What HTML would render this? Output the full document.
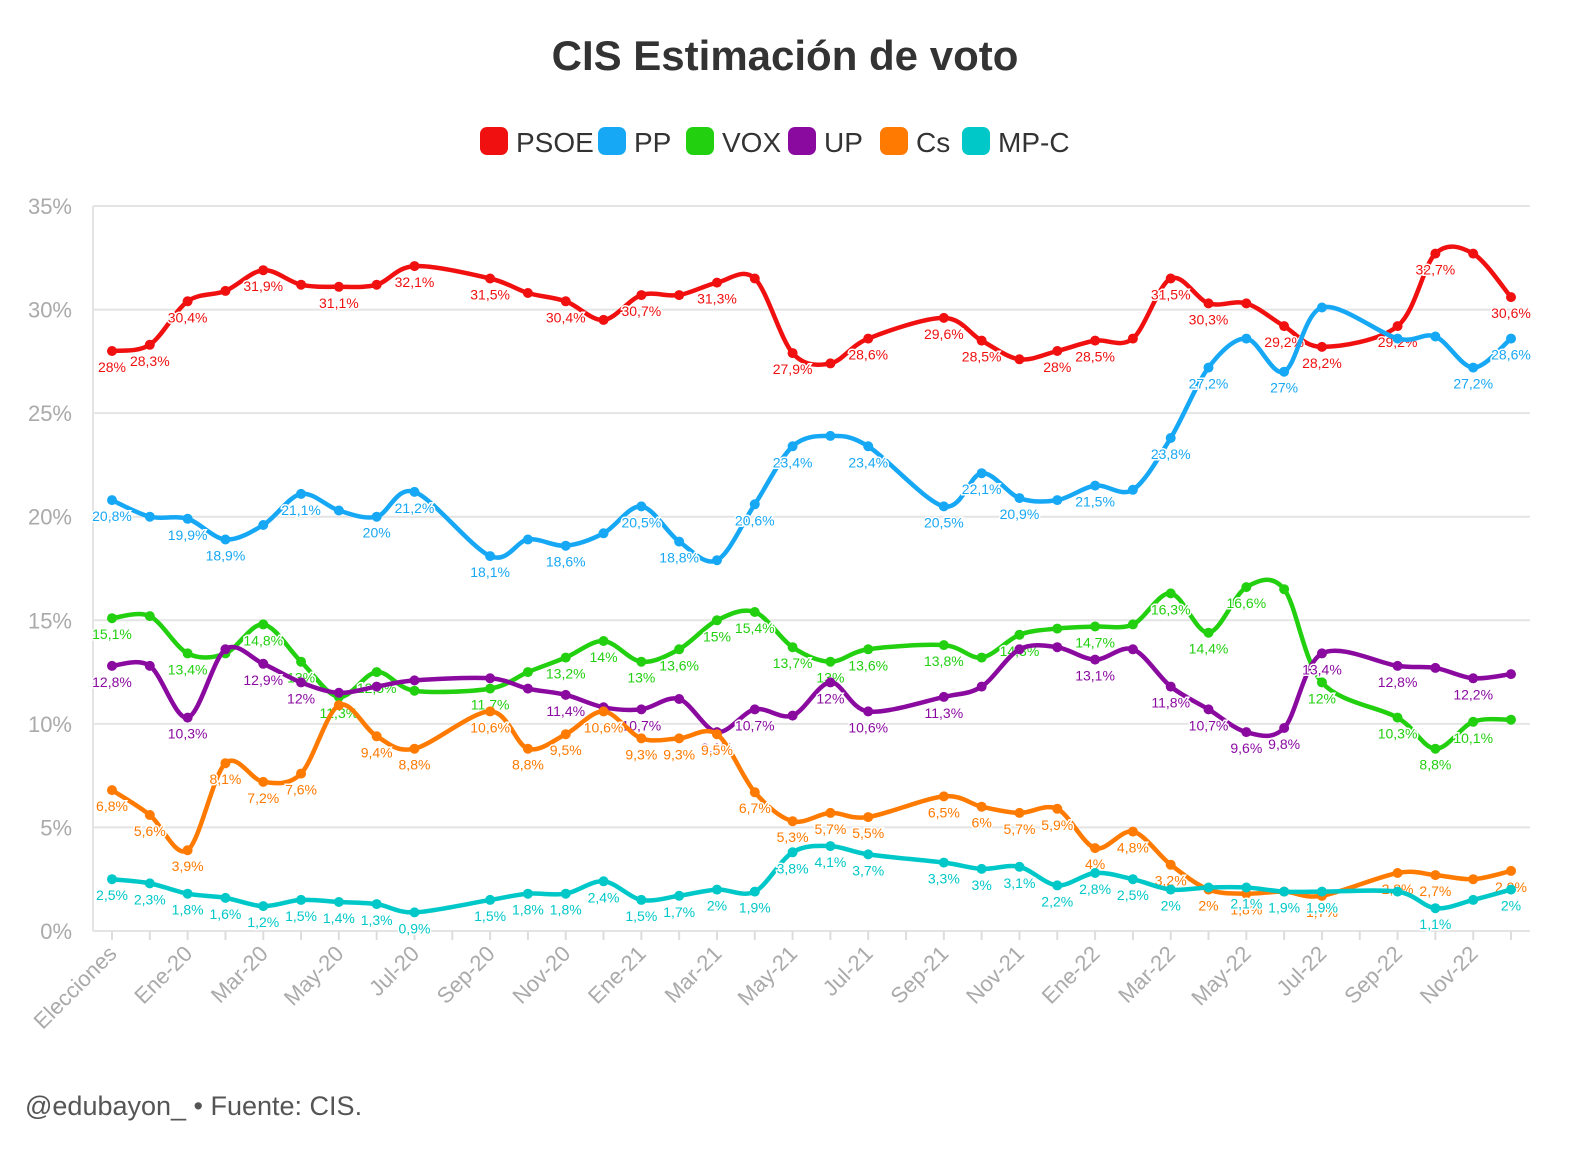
<!DOCTYPE html>
<html><head><meta charset="utf-8">
<style>
body{margin:0;background:#fff;font-family:"Liberation Sans",sans-serif;}
svg text{font-family:"Liberation Sans",sans-serif;}
</style></head>
<body>
<svg id="chart" width="1592" height="1150" xmlns="http://www.w3.org/2000/svg">
<text x="785" y="70" text-anchor="middle" font-size="42" font-weight="bold" fill="#333">CIS Estimación de voto</text>
<g id="legend"></g>
<g id="grid"></g>
<g id="series"></g>
<text x="25" y="1115" font-size="27" fill="#555">@edubayon_ • Fuente: CIS.</text>
</svg>
<script>
const tickLabels=["Elecciones","Ene-20","Mar-20","May-20","Jul-20","Sep-20","Nov-20","Ene-21","Mar-21","May-21","Jul-21","Sep-21","Nov-21","Ene-22","Mar-22","May-22","Jul-22","Sep-22","Nov-22"];
const yTicks=[0,5,10,15,20,25,30,35];
const seriesNames=["PSOE","PP","VOX","UP","Cs","MP-C"];
const N=null;
const psoe=[28,28.3,30.4,30.9,31.9,31.2,31.1,31.2,32.1,N,31.5,30.8,30.4,29.5,30.7,30.7,31.3,31.5,27.9,27.4,28.6,N,29.6,28.5,27.6,28,28.5,28.6,31.5,30.3,30.3,29.2,28.2,N,29.2,32.7,32.7,30.6];
const pp=[20.8,20.0,19.9,18.9,19.6,21.1,20.3,20.0,21.2,N,18.1,18.9,18.6,19.2,20.5,18.8,17.9,20.6,23.4,23.9,23.4,N,20.5,22.1,20.9,20.8,21.5,21.3,23.8,27.2,28.6,27.0,30.1,N,28.6,28.7,27.2,28.6];
const vox=[15.1,15.2,13.4,13.4,14.8,13.0,11.3,12.5,11.6,N,11.7,12.5,13.2,14.0,13.0,13.6,15.0,15.4,13.7,13.0,13.6,N,13.8,13.2,14.3,14.6,14.7,14.8,16.3,14.4,16.6,16.5,12.0,N,10.3,8.8,10.1,10.2];
const up=[12.8,12.8,10.3,13.6,12.9,12.0,11.5,11.8,12.1,N,12.2,11.7,11.4,10.8,10.7,11.2,9.6,10.7,10.4,12.0,10.6,N,11.3,11.8,13.6,13.7,13.1,13.6,11.8,10.7,9.6,9.8,13.4,N,12.8,12.7,12.2,12.4];
const cs=[6.8,5.6,3.9,8.1,7.2,7.6,10.9,9.4,8.8,N,10.6,8.8,9.5,10.6,9.3,9.3,9.5,6.7,5.3,5.7,5.5,N,6.5,6.0,5.7,5.9,4.0,4.8,3.2,2.0,1.8,1.9,1.7,N,2.8,2.7,2.5,2.9];
const mpc=[2.5,2.3,1.8,1.6,1.2,1.5,1.4,1.3,0.9,N,1.5,1.8,1.8,2.4,1.5,1.7,2.0,1.9,3.8,4.1,3.7,N,3.3,3.0,3.1,2.2,2.8,2.5,2.0,2.1,2.1,1.9,1.9,N,1.9,1.1,1.5,2.0];
const psoeLab=[0,1,2,4,6,8,10,12,14,16,18,20,22,23,25,26,28,29,31,32,34,35,37];
const ppLab=[0,2,3,5,7,8,10,12,14,15,17,18,20,22,23,24,26,28,29,31,36,37];
const voxLab=[0,2,4,5,6,7,10,12,13,14,15,16,17,18,19,20,22,24,26,28,29,30,32,34,35,36];
const upLab=[0,2,4,5,12,14,16,17,19,20,22,26,28,29,30,31,32,34,36];
const csLab=[0,1,2,3,4,5,7,8,10,11,12,13,14,15,16,17,18,19,20,22,23,24,25,26,27,28,29,30,31,32,34,35,37];
const mpcLab=[0,1,2,3,4,5,6,7,8,10,11,12,13,14,15,16,17,18,19,20,22,23,24,25,26,27,28,30,31,32,35,37];

const NS="http://www.w3.org/2000/svg";
const X0=112,X1=1511,Y0=931,Y35=206,L=93,R=1530;
const nPts=psoe.length;
function xs(i){return X0+(X1-X0)*i/(nPts-1);}
function ys(v){return Y0-(Y0-Y35)*v/35;}
function el(t,a,p){const e=document.createElementNS(NS,t);for(const k in a)e.setAttribute(k,a[k]);p.appendChild(e);return e;}
const grid=document.getElementById('grid');
yTicks.forEach(v=>{
  const g=el('line',{x1:L,x2:R,y1:ys(v),y2:ys(v),stroke:'#e4e4e4','stroke-width':2},grid);
  
  
  const t=el('text',{x:72,y:ys(v)+8,'text-anchor':'end','font-size':22,fill:'#aaa'},grid);
  t.textContent=v+'%';
  
  
});
el('line',{x1:L,x2:L,y1:Y35,y2:Y0,stroke:'#e4e4e4','stroke-width':2},grid);
for(let i=0;i<nPts;i++){
  const l=el('line',{x1:xs(i),x2:xs(i),y1:Y0,y2:Y0+9,stroke:'#ddd','stroke-width':2},grid);
  
  
}
tickLabels.forEach((s,k)=>{
  const x=xs(k*2),y=Y0+24;
  const t=el('text',{x:x+6,y:y,'text-anchor':'end','font-size':22,fill:'#aaa',transform:`rotate(-45 ${x+6} ${y})`},grid);
  t.textContent=s;
  
  
});
const colors=["#f01010","#17a8f5","#22d010","#8a0aa0","#ff7a00","#00c8c8"];
const data=[psoe,pp,vox,up,cs,mpc];
const labs=[psoeLab,ppLab,voxLab,upLab,csLab,mpcLab];
// legend
const leg=document.getElementById('legend');
let lx=480;
const lw=[118,88,102,92,82,110];
seriesNames.forEach((n,k)=>{
  const r=el('rect',{x:lx,y:127,width:28,height:28,rx:7,fill:colors[k]},leg);
  
  
  const t=el('text',{x:lx+36,y:152,'font-size':28,fill:'#333'},leg);
  t.textContent=n;
  
  
  lx+=lw[k];
});
function path(pts){
  let d=`M${pts[0][0]},${pts[0][1]}`;
  for(let i=0;i<pts.length-1;i++){
    const p0=pts[i-1]||pts[i],p1=pts[i],p2=pts[i+1],p3=pts[i+2]||p2;
    const t=0.16;
    let c1y=p1[1]+(p2[1]-p0[1])*t, c2y=p2[1]-(p3[1]-p1[1])*t;
    d+=`C${p1[0]+(p2[0]-p0[0])*t},${c1y} ${p2[0]-(p3[0]-p1[0])*t},${c2y} ${p2[0]},${p2[1]}`;
  }
  return d;
}
const sg=document.getElementById('series');
const fmt=v=>String(v).replace('.',',')+'%';
data.forEach((arr,k)=>{
  const g=el('g',{},sg);
  
  
  const pts=[];arr.forEach((v,i)=>{if(v!==null)pts.push([xs(i),ys(v)]);});
  const p=el('path',{d:path(pts),fill:'none',stroke:colors[k],'stroke-width':4.5,'stroke-linejoin':'round'},g);
  
  
  arr.forEach((v,i)=>{
    if(v===null)return;
    const c=el('circle',{cx:xs(i),cy:ys(v),r:5,fill:colors[k]},g);
    
    
  });
  labs[k].forEach(i=>{
    const v=arr[i];if(v===null)return;
    const t=el('text',{x:xs(i),y:ys(v)+21,'text-anchor':'middle','font-size':14,fill:colors[k],stroke:'#fff','stroke-width':3,'paint-order':'stroke'},g);
    t.textContent=fmt(v);
    
    
  });
});
</script>
</body></html>
